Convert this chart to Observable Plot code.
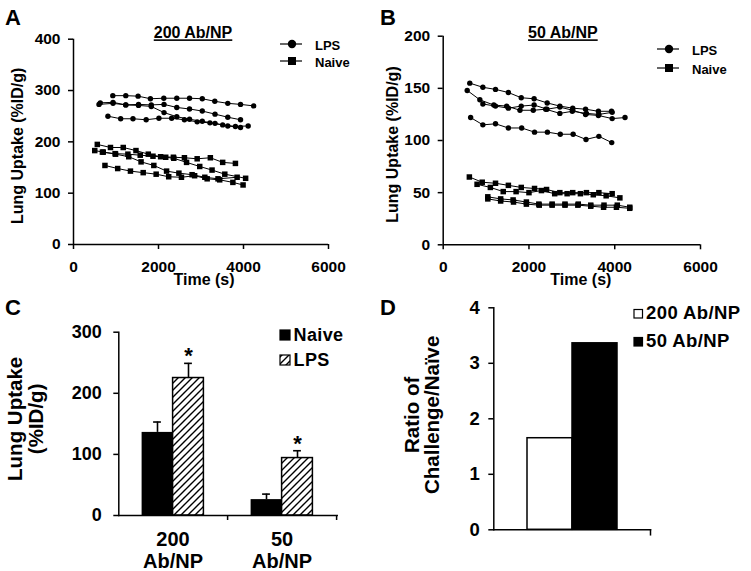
<!DOCTYPE html>
<html>
<head>
<meta charset="utf-8">
<script src="https://cdn.jsdelivr.net/npm/d3@7"></script>
<script src="https://cdn.jsdelivr.net/npm/@observablehq/plot@0.6"></script>
<style>
  html, body { margin: 0; padding: 0; background: #fff; }
  #root { position: relative; width: 751px; height: 571px; overflow: hidden; background: #fff; }
  .panel { position: absolute; }
  .panel svg { display: block; overflow: visible; }
</style>
</head>
<body>
<div id="root">
  <svg width="0" height="0" style="position:absolute;left:0;top:0">
    <defs>
      <pattern id="hatch" patternUnits="userSpaceOnUse" width="7" height="7">
        <rect width="7" height="7" fill="#fff"/>
        <path d="M-1,1 l2,-2 M0,7 l7,-7 M6,8 l2,-2" stroke="#000" stroke-width="1.4"/>
      </pattern>
    </defs>
  </svg>
</div>
<script>
// ---------------- DATA ----------------
const timeTicks = [0, 2000, 4000, 6000];

// Panel A: 200 Ab/NP, individual animals
const aTitle = "200 Ab/NP";
const aUptakeTicks = [0, 100, 200, 300, 400];
const aLpsTime = [
  [925, 1230, 1520, 1810, 2125, 2430, 2730, 3030, 3325, 3630, 3930, 4240],
  [630, 930, 1230, 1530, 1830, 2130, 2430, 2730, 3030, 3330, 3630, 3930],
  [600, 930, 1230, 1530, 1830, 2130, 2430, 2730, 3030, 3330, 3630, 3930],
  [810, 1110, 1400, 1710, 2010, 2310, 2610, 2910, 3210, 3510, 3810, 4110]
];
const aLpsUptake = [
  [290, 290, 289, 284, 285, 285, 285, 284, 279, 275, 273, 270],
  [276, 277, 272, 273, 272, 273, 267, 264, 260, 254, 248, 243],
  [273, 275, 272, 271, 269, 257, 249, 244, 240, 236, 231, 228],
  [250, 245, 245, 243, 246, 246, 243, 239, 237, 233, 230, 231]
];
const aNaiveTime = [
  [560, 870, 1170, 1470, 1760, 2050, 2350, 2610, 2910, 3220, 3510, 3810],
  [500, 700, 990, 1300, 1590, 1890, 2190, 2480, 2790, 3090, 3400, 3850],
  [680, 980, 1280, 1570, 1870, 2170, 2360, 2660, 2970, 3260, 3560, 4050],
  [740, 1040, 1340, 1640, 1945, 2240, 2540, 2850, 3145, 3440, 3750, 3990]
];
const aNaiveUptake = [
  [195, 189, 189, 183, 176, 171, 170, 169, 167, 169, 160, 158],
  [183, 180, 176, 171, 161, 154, 143, 139, 136, 131, 128, 131],
  [180, 177, 176, 174, 172, 170, 168, 160, 152, 145, 137, 129],
  [154, 148, 143, 140, 137, 132, 131, 134, 128, 126, 121, 116]
];

// Panel B: 50 Ab/NP, individual animals
const bTitle = "50 Ab/NP";
const bUptakeTicks = [0, 50, 100, 150, 200];
const bLpsTime = [
  [620, 925, 1220, 1520, 1820, 2120, 2425, 2720, 3020, 3320, 3620, 3925],
  [560, 855, 1180, 1480, 1790, 2100, 2390, 2720, 3010, 3340, 3630, 3940],
  [925, 1220, 1520, 1820, 2120, 2420, 2720, 3020, 3320, 3620, 3940, 4240],
  [640, 925, 1220, 1520, 1830, 2130, 2430, 2730, 3030, 3330, 3630, 3930]
];
const bLpsUptake = [
  [155, 151, 149, 146, 141, 140, 136, 133, 131, 130, 128, 128],
  [148, 139, 134, 133, 129, 129, 130, 126, 128, 126, 125, 127],
  [135, 133, 131, 133, 134, 130, 132, 129, 125, 124, 121, 122],
  [122, 115, 116, 112, 112, 108, 108, 106, 106, 101, 104, 98]
];
const bNaiveTime = [
  [610, 910, 1220, 1520, 1820, 2130, 2410, 2720, 3020, 3340, 3630, 3940],
  [790, 1100, 1400, 1700, 2000, 2290, 2600, 2890, 3200, 3500, 3800, 4120],
  [1040, 1340, 1630, 1940, 2230, 2540, 2840, 3150, 3440, 3750, 4060, 4350],
  [1040, 1340, 1640, 1940, 2240, 2540, 2840, 3140, 3440, 3740, 4040, 4350]
];
const bNaiveUptake = [
  [65, 60, 59, 57, 55, 54, 53, 50, 50, 50, 50, 49],
  [58, 55, 51, 51, 50, 52, 49, 49, 49, 48, 47, 45],
  [46, 44, 43, 41, 39, 39, 39, 39, 38, 38, 38, 36],
  [44, 42, 41, 39, 38, 38, 38, 38, 37, 36, 36, 35]
];

// Panel C: mean lung uptake
const cGroups = ["200\nAb/NP", "50\nAb/NP"];
const cSeries = ["Naive", "LPS"];
const cNaive = [136, 26];
const cNaiveErr = [17, 9];
const cLps = [225, 94];
const cLpsErr = [24, 12];
const cUptakeTicks = [0, 100, 200, 300];

// Panel D: ratio challenge / naive
const dSeries = ["200 Ab/NP", "50 Ab/NP"];
const dRatio = [1.65, 3.36];
const dRatioTicks = [0, 1, 2, 3, 4];

const uptakeLabel = "Lung Uptake (%ID/g)";
const uptakeLabel2 = "Lung Uptake\n(%ID/g)";
const timeLabel = "Time (s)";
const ratioLabel = "Ratio of\nChallenge/Naïve";
const panelLetters = ["A", "B", "C", "D"];

// ---------------- STYLE ----------------
const FONT = '"Liberation Sans", Arial, Helvetica, sans-serif';
const INK = "#000";
const AX = 1.5;

function baseStyle(size) {
  return { fontFamily: FONT, fontWeight: "bold", fontSize: size + "px", color: INK, background: "transparent", overflow: "visible" };
}
function toRows(times, values, group) {
  const out = [];
  times.forEach((ts, i) => ts.forEach((t, j) => out.push({ id: group + i, group, t, v: values[i][j] })));
  return out;
}
function underline(svg, label) {
  d3.select(svg).selectAll("text").filter(function () { return this.textContent === label; })
    .style("text-decoration", "underline");
}
function place(svg, left, top) {
  const div = document.createElement("div");
  div.className = "panel";
  div.style.left = left + "px";
  div.style.top = top + "px";
  div.appendChild(svg);
  document.getElementById("root").appendChild(div);
}

function linePanel(o) {
  const lps = toRows(o.lpsTime, o.lpsUptake, "LPS");
  const naive = toRows(o.naiveTime, o.naiveUptake, "Naive");
  const svg = Plot.plot({
    width: o.width, height: o.height,
    marginTop: o.m[0], marginRight: o.m[1], marginBottom: o.m[2], marginLeft: o.m[3],
    style: baseStyle(15.5),
    x: { type: "linear", domain: [0, 6000] },
    y: { type: "linear", domain: [o.yTicks[0], o.yTicks[o.yTicks.length - 1]] },
    marks: [
      Plot.ruleY([0], { stroke: INK, strokeWidth: AX }),
      Plot.ruleX([0], { stroke: INK, strokeWidth: AX }),
      Plot.axisX({ ticks: timeTicks, tickFormat: "d", tickSize: 5, tickPadding: 11, label: null, fontSize: 15.5, fontWeight: "bold", strokeWidth: AX }),
      Plot.axisY({ ticks: o.yTicks, tickFormat: "d", tickSize: 5, tickPadding: 8, label: null, fontSize: 15.5, fontWeight: "bold", strokeWidth: AX }),
      Plot.text([timeLabel], { frameAnchor: "bottom", lineAnchor: "top", dx: o.xLabelDx, dy: 29, fontSize: 16, fontWeight: "bold" }),
      Plot.text([uptakeLabel], { frameAnchor: "left", rotate: -90, textAnchor: "middle", lineAnchor: "middle", dx: o.yLabelDx, dy: o.yLabelDy, fontSize: 16, fontWeight: "bold" }),
      Plot.text([o.title], { frameAnchor: "top", lineAnchor: "middle", dx: o.titleDx, dy: o.titleDy, fontSize: 16, fontWeight: "bold" }),
      Plot.line([...lps, ...naive], { x: "t", y: "v", z: "id", stroke: INK, strokeWidth: 1 }),
      Plot.dot(lps, { x: "t", y: "v", symbol: "circle", r: 2.7, fill: INK }),
      Plot.dot(naive, { x: "t", y: "v", symbol: "square", r: 3.1, fill: INK })
    ]
  });
  underline(svg, o.title);
  return svg;
}

// ---------------- PANEL A ----------------
place(linePanel({
  width: 375, height: 290, m: [38.7, 47, 46, 73],
  lpsTime: aLpsTime, lpsUptake: aLpsUptake, naiveTime: aNaiveTime, naiveUptake: aNaiveUptake,
  yTicks: aUptakeTicks, title: aTitle,
  xLabelDx: 3, yLabelDx: -56, yLabelDy: 4, titleDx: -8, titleDy: -6
}), 0, 0);

// ---------------- PANEL B ----------------
place(linePanel({
  width: 376, height: 290, m: [35.7, 51, 45.7, 67.7],
  lpsTime: bLpsTime, lpsUptake: bLpsUptake, naiveTime: bNaiveTime, naiveUptake: bNaiveUptake,
  yTicks: bUptakeTicks, title: bTitle,
  xLabelDx: 9, yLabelDx: -50, yLabelDy: 4, titleDx: -9, titleDy: -3
}), 375, 0);

// ---------------- PANEL C ----------------
{
  const w = 375, h = 281, m = { top: 41.7, right: 38.3, bottom: 56, left: 118.3 };
  const band = (w - m.left - m.right) / cGroups.length;
  const barW = 31;
  const rows = cGroups.map((group, i) => ({ group, naive: cNaive[i], naiveErr: cNaiveErr[i], lps: cLps[i], lpsErr: cLpsErr[i] }));
  const plotH = h - m.top - m.bottom;
  const svg = Plot.plot({
    width: w, height: h, marginTop: m.top, marginRight: m.right, marginBottom: m.bottom, marginLeft: m.left,
    style: baseStyle(18),
    x: { type: "band", domain: cGroups, padding: 0 },
    y: { domain: [0, 300] },
    marks: [
      Plot.barY(rows, { x: "group", y: "naive", fill: INK, insetLeft: band / 2 - barW, insetRight: band / 2 }),
      Plot.barY(rows, { x: "group", y: "lps", fill: "url(#hatch)", stroke: INK, strokeWidth: 1.5, insetLeft: band / 2, insetRight: band / 2 - barW }),
      Plot.ruleX(rows, { x: "group", y1: "naive", y2: d => d.naive + d.naiveErr, dx: -barW / 2, stroke: INK, strokeWidth: 1.6 }),
      Plot.tickY(rows, { x: "group", y: d => d.naive + d.naiveErr, dx: -barW / 2, insetLeft: band / 2 - 4, insetRight: band / 2 - 4, stroke: INK, strokeWidth: 1.6 }),
      Plot.ruleX(rows, { x: "group", y1: "lps", y2: d => d.lps + d.lpsErr, dx: barW / 2, stroke: INK, strokeWidth: 1.6 }),
      Plot.tickY(rows, { x: "group", y: d => d.lps + d.lpsErr, dx: barW / 2, insetLeft: band / 2 - 4, insetRight: band / 2 - 4, stroke: INK, strokeWidth: 1.6 }),
      Plot.text(rows, { x: "group", y: d => d.lps + d.lpsErr, text: () => "*", dx: barW / 2, dy: -7, lineAnchor: "middle", fontSize: 22, fontWeight: "bold" }),
      Plot.frame({ anchor: "left", stroke: INK, strokeWidth: AX }),
      Plot.frame({ anchor: "bottom", stroke: INK, strokeWidth: AX }),
      Plot.ruleX(cGroups, { x: d => d, dx: band / 2, insetTop: plotH, insetBottom: -5, stroke: INK, strokeWidth: AX }),
      Plot.axisY({ ticks: cUptakeTicks, tickFormat: "d", tickSize: 5, tickPadding: 12, label: null, fontSize: 18, fontWeight: "bold", strokeWidth: AX }),
      Plot.axisX({ tickSize: 0, tickPadding: 15, label: null, fontSize: 20, fontWeight: "bold", lineHeight: 1.1 }),
      Plot.text([uptakeLabel2], { frameAnchor: "left", rotate: -90, textAnchor: "middle", lineAnchor: "middle", dx: -93, dy: -5, fontSize: 20.5, lineHeight: 1.0, fontWeight: "bold" })
    ]
  });
  place(svg, 0, 290);
}

// ---------------- PANEL D ----------------
{
  const w = 376, h = 281, m = { top: 17.3, right: 101, bottom: 41.7, left: 118.3 };
  const plotH = h - m.top - m.bottom;
  const rows = dSeries.map((series, i) => ({ series, ratio: dRatio[i] }));
  const svg = Plot.plot({
    width: w, height: h, marginTop: m.top, marginRight: m.right, marginBottom: m.bottom, marginLeft: m.left,
    style: baseStyle(18),
    x: { type: "band", domain: dSeries, paddingInner: 0, paddingOuter: 0.74, axis: null },
    y: { domain: [0, 4] },
    color: { domain: dSeries, range: ["#fff", "#000"] },
    marks: [
      Plot.barY(rows, { x: "series", y: "ratio", fill: "series", stroke: INK, strokeWidth: 1.5 }),
      Plot.frame({ anchor: "left", stroke: INK, strokeWidth: AX }),
      Plot.frame({ anchor: "bottom", stroke: INK, strokeWidth: AX }),
      Plot.frame({ anchor: "right", insetTop: plotH, insetBottom: -5, stroke: INK, strokeWidth: AX }),
      Plot.axisY({ ticks: dRatioTicks, tickFormat: "d", tickSize: 5, tickPadding: 9, label: null, fontSize: 18.5, fontWeight: "bold", strokeWidth: AX }),
      Plot.text([ratioLabel], { frameAnchor: "left", rotate: -90, textAnchor: "middle", lineAnchor: "middle", dx: -71, dy: -4, fontSize: 20.5, lineHeight: 0.98, fontWeight: "bold" })
    ]
  });
  place(svg, 375, 290);
}

// ---------------- LEGENDS & PANEL LETTERS (overlay) ----------------
const ov = d3.select("#root").append("svg")
  .attr("width", 751).attr("height", 571)
  .style("position", "absolute").style("left", "0px").style("top", "0px")
  .style("font-family", FONT).style("font-weight", "bold").style("pointer-events", "none");

const lineLegends = [
  { x: 280, y: 44, series: cSeries[1], shape: "circle" },
  { x: 280, y: 61, series: cSeries[0], shape: "square" },
  { x: 657, y: 49, series: cSeries[1], shape: "circle" },
  { x: 657, y: 68, series: cSeries[0], shape: "square" }
];
lineLegends.forEach(l => {
  ov.append("line").attr("x1", l.x).attr("x2", l.x + 22).attr("y1", l.y).attr("y2", l.y).attr("stroke", INK).attr("stroke-width", 1.2);
  if (l.shape === "circle") ov.append("circle").attr("cx", l.x + 12).attr("cy", l.y).attr("r", 4.2).attr("fill", INK);
  else ov.append("rect").attr("x", l.x + 8).attr("y", l.y - 4).attr("width", 8).attr("height", 8).attr("fill", INK);
  ov.append("text").attr("x", l.x + 35).attr("y", l.y + 5.5).attr("font-size", 13).text(l.series);
});

const boxLegends = [
  { x: 280, y: 330, size: 10, fill: INK, label: cSeries[0], fs: 18 },
  { x: 280, y: 355, size: 10, fill: "url(#hatch)", label: cSeries[1], fs: 18 },
  { x: 634, y: 309.5, size: 8.5, fill: "#fff", label: dSeries[0], fs: 18.5 },
  { x: 634, y: 337.5, size: 8.5, fill: INK, label: dSeries[1], fs: 18.5 }
];
boxLegends.forEach(b => {
  ov.append("rect").attr("x", b.x).attr("y", b.y).attr("width", b.size).attr("height", b.size)
    .attr("fill", b.fill).attr("stroke", INK).attr("stroke-width", 1.2);
  ov.append("text").attr("x", b.x + b.size + 3.5).attr("y", b.y + b.size + 0.5).attr("font-size", b.fs)
    .attr("letter-spacing", 0.4).text(b.label);
});

const letterPos = [[5, 25], [380, 25], [5, 315], [380, 315]];
panelLetters.forEach((t, i) => {
  ov.append("text").attr("x", letterPos[i][0]).attr("y", letterPos[i][1]).attr("font-size", 22).text(t);
});
</script>
</body>
</html>
